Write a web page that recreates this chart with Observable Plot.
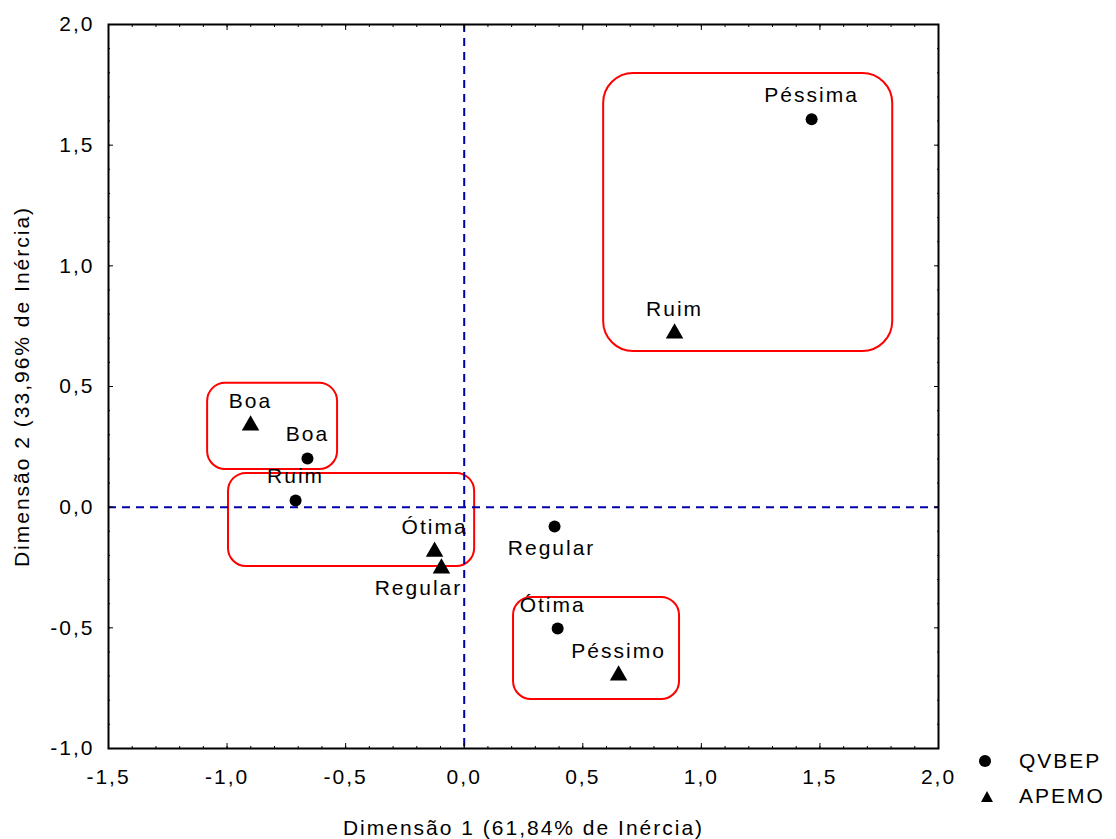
<!DOCTYPE html>
<html>
<head>
<meta charset="utf-8">
<script src="https://cdn.jsdelivr.net/npm/d3@7"></script>
<script src="https://cdn.jsdelivr.net/npm/@observablehq/plot@0.6"></script>
<style>
  body { margin: 0; background: #fff; font-family: "Liberation Sans", Arial, sans-serif; }
  #wrap { position: relative; width: 1116px; height: 839px; }
  #wrap svg text { letter-spacing: 2px; }
  .leg { position: absolute; left: 975px; display: flex; align-items: center; font-size: 21px; letter-spacing: 2px; color: #000; }
  .leg svg { margin-right: 24px; }
</style>
</head>
<body>
<div id="wrap"></div>
<script>
// Data
const categories = ["Péssima", "Ruim", "Boa", "Boa", "Ruim", "Ótima", "Regular", "Regular", "Ótima", "Péssimo"];
const groups     = ["QVBEP", "APEMO", "APEMO", "QVBEP", "QVBEP", "APEMO", "APEMO", "QVBEP", "QVBEP", "APEMO"];
const dim1       = [1.465, 0.887, -0.901, -0.661, -0.711, -0.125, -0.096, 0.381, 0.394, 0.651];
const dim2       = [1.607, 0.720, 0.339, 0.202, 0.028, -0.184, -0.254, -0.080, -0.503, -0.697];

// Annotation boxes (data units)
const boxX1 = [0.588, -1.082, -0.994, 0.208];
const boxX2 = [1.807, -0.534, 0.044, 0.908];
const boxY1 = [0.645, 0.156, -0.246, -0.797];
const boxY2 = [1.797, 0.513, 0.140, -0.374];

const seriesNames = ["QVBEP", "APEMO"];
const xMajor = [-1.5, -1.0, -0.5, 0.0, 0.5, 1.0, 1.5, 2.0];
const yMajor = [-1.0, -0.5, 0.0, 0.5, 1.0, 1.5, 2.0];
const xMinor = d3.range(-15, 21).map(i => i / 10);
const yMinor = d3.range(-10, 21).map(i => i / 10);
const xTitle = "Dimensão 1 (61,84% de Inércia)";
const yTitle = "Dimensão 2 (33,96% de Inércia)";

const points = categories.map((c, i) => ({label: c, group: groups[i], x: dim1[i], y: dim2[i]}));
const boxes = boxX1.map((_, i) => ({x1: boxX1[i], x2: boxX2[i], y1: boxY1[i], y2: boxY2[i], big: i === 0}));

const fmt = d => d.toFixed(1).replace(".", ",");
const blank = () => "";
const FS = 21;

const chart = Plot.plot({
  width: 1116,
  height: 839,
  marginLeft: 108,
  marginRight: 178,
  marginTop: 24,
  marginBottom: 91,
  style: {fontFamily: "'Liberation Sans', Arial, sans-serif", fontSize: FS + "px", background: "#fff", color: "#000"},
  x: {domain: [-1.5, 2.0]},
  y: {domain: [-1.0, 2.0]},
  symbol: {domain: seriesNames, range: ["circle", "triangle"]},
  marks: [
    Plot.rect(boxes.filter(b => b.big), {x1: "x1", x2: "x2", y1: "y1", y2: "y2", rx: 30, fill: "none", stroke: "#ff0000", strokeWidth: 2}),
    Plot.rect(boxes.filter(b => !b.big), {x1: "x1", x2: "x2", y1: "y1", y2: "y2", rx: 18, fill: "none", stroke: "#ff0000", strokeWidth: 2}),
    Plot.ruleX([0], {stroke: "#0000a8", strokeWidth: 2, strokeDasharray: "8,6"}),
    Plot.ruleY([0], {stroke: "#0000a8", strokeWidth: 2, strokeDasharray: "8,6"}),
    Plot.frame({stroke: "#000", strokeWidth: 2}),
    // major ticks
    Plot.axisX({anchor: "bottom", ticks: xMajor, tickSize: -5, tickPadding: 26, tickFormat: fmt, label: null, fontSize: FS}),
    Plot.axisX({anchor: "top", ticks: xMajor, tickSize: -5, tickFormat: blank, label: null}),
    Plot.axisY({anchor: "left", ticks: yMajor, tickSize: -5, tickPadding: 19, tickFormat: fmt, label: null, fontSize: FS}),
    Plot.axisY({anchor: "right", ticks: yMajor, tickSize: -5, tickFormat: blank, label: null}),
    // minor ticks
    Plot.axisX({anchor: "bottom", ticks: xMinor, tickSize: -2, tickFormat: blank, label: null}),
    Plot.axisX({anchor: "top", ticks: xMinor, tickSize: -2, tickFormat: blank, label: null}),
    Plot.axisY({anchor: "left", ticks: yMinor, tickSize: -2, tickFormat: blank, label: null}),
    Plot.axisY({anchor: "right", ticks: yMinor, tickSize: -2, tickFormat: blank, label: null}),
    // points
    Plot.dot(points.filter(p => p.group === "QVBEP"), {x: "x", y: "y", symbol: "group", r: 6, fill: "#000"}),
    Plot.dot(points.filter(p => p.group === "APEMO"), {x: "x", y: "y", symbol: "group", r: 6.5, fill: "#000"}),
    // labels
    Plot.text(points.filter(p => p.label !== "Regular" && !(p.label === "Ótima" && p.group === "QVBEP")), {x: "x", y: "y", text: "label", dy: -24, fontSize: FS, fill: "#000"}),
    Plot.text(points.filter(p => p.label === "Ótima" && p.group === "QVBEP"), {x: "x", y: "y", text: "label", dy: -23, dx: -5, fontSize: FS, fill: "#000"}),
    Plot.text(points.filter(p => p.label === "Regular" && p.group === "QVBEP"), {x: "x", y: "y", text: "label", dy: 22, dx: -3, fontSize: FS, fill: "#000"}),
    Plot.text(points.filter(p => p.label === "Regular" && p.group === "APEMO"), {x: "x", y: "y", text: "label", dy: 20, dx: -23, fontSize: FS, fill: "#000"}),
    // axis titles
    Plot.text([xTitle], {frameAnchor: "bottom", textAnchor: "middle", lineAnchor: "middle", dy: 80, fontSize: FS, fill: "#000"}),
    Plot.text([yTitle], {frameAnchor: "left", textAnchor: "middle", lineAnchor: "middle", rotate: -90, dx: -86, fontSize: FS, fill: "#000"})
  ]
});

const wrap = document.getElementById("wrap");
wrap.appendChild(chart);

// Legend
const legendRows = [
  {name: seriesNames[0], shape: "circle", top: 749},
  {name: seriesNames[1], shape: "triangle", top: 784}
];
for (const row of legendRows) {
  const div = document.createElement("div");
  div.className = "leg";
  div.style.top = row.top + "px";
  const s = row.shape === "circle"
    ? '<svg width="20" height="22"><circle cx="10" cy="11" r="6" fill="#000"/></svg>'
    : '<svg width="20" height="22"><path d="M12,6 L18,17 L6,17 Z" fill="#000"/></svg>';
  div.innerHTML = s + "<span>" + row.name + "</span>";
  wrap.appendChild(div);
}
</script>
</body>
</html>
